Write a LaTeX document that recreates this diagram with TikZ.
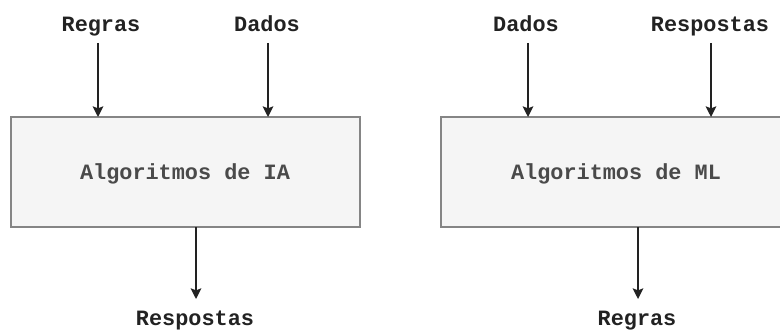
\documentclass[tikz,border=0pt]{standalone}
\usepackage{fontspec}
\setmonofont{Liberation Mono}
\usetikzlibrary{arrows.meta}
\definecolor{boxfill}{HTML}{F5F5F5}
\definecolor{boxline}{HTML}{858585}
\definecolor{inktext}{HTML}{222222}
\definecolor{boxtext}{HTML}{4A4A4A}
\tikzset{
  monofont/.style={font=\ttfamily\bfseries\fontsize{16.4}{19}\selectfont},
  algobox/.style={draw=boxline, line width=1.5pt, fill=boxfill, minimum width=349*0.75pt,
    minimum height=110*0.75pt, inner sep=0pt},
  boxlabel/.style={monofont, text=boxtext, inner sep=0pt, anchor=base},
  tag/.style={monofont, text=inktext, inner sep=0pt, anchor=base},
  flow/.style={draw=inktext, line width=1.1pt,
    -{Stealth[length=8pt, width=8pt, inset=1.5pt]}}
}
\begin{document}
\begin{tikzpicture}[x=0.75pt, y=-0.75pt]
\useasboundingbox (0,0) rectangle (780,331);

% left diagram: classical AI
\node[algobox] (ia) at (185.5,172) {};
\node[boxlabel] (iatext) at (185,180) {Algoritmos de IA};
\node[tag] (r1) at (101,32) {Regras};
\node[tag] (d1) at (267,32) {Dados};
\node[tag] (s1) at (195,325) {Respostas};
\coordinate (ia-in1) at (98,117);
\coordinate (ia-in2) at (268,117);
\coordinate (ia-out) at (196,227);
\coordinate (s1-top) at (196,299);
\draw[flow] (98,43) -- (ia-in1);
\draw[flow] (268,43) -- (ia-in2);
\draw[flow] (ia-out) -- (s1-top);

% right diagram: machine learning (box runs past the right margin)
\node[algobox, minimum width=360*0.75pt] (ml) at (621,172) {};
\node[boxlabel] (mltext) at (616,180) {Algoritmos de ML};
\node[tag] (d2) at (526,32) {Dados};
\node[tag] (s2) at (710,32) {Respostas};
\node[tag] (r2) at (637,325) {Regras};
\coordinate (ml-in1) at (528,117);
\coordinate (ml-in2) at (711,117);
\coordinate (ml-out) at (638,227);
\coordinate (r2-top) at (638,299);
\draw[flow] (528,43) -- (ml-in1);
\draw[flow] (711,43) -- (ml-in2);
\draw[flow] (ml-out) -- (r2-top);
\end{tikzpicture}
\end{document}
